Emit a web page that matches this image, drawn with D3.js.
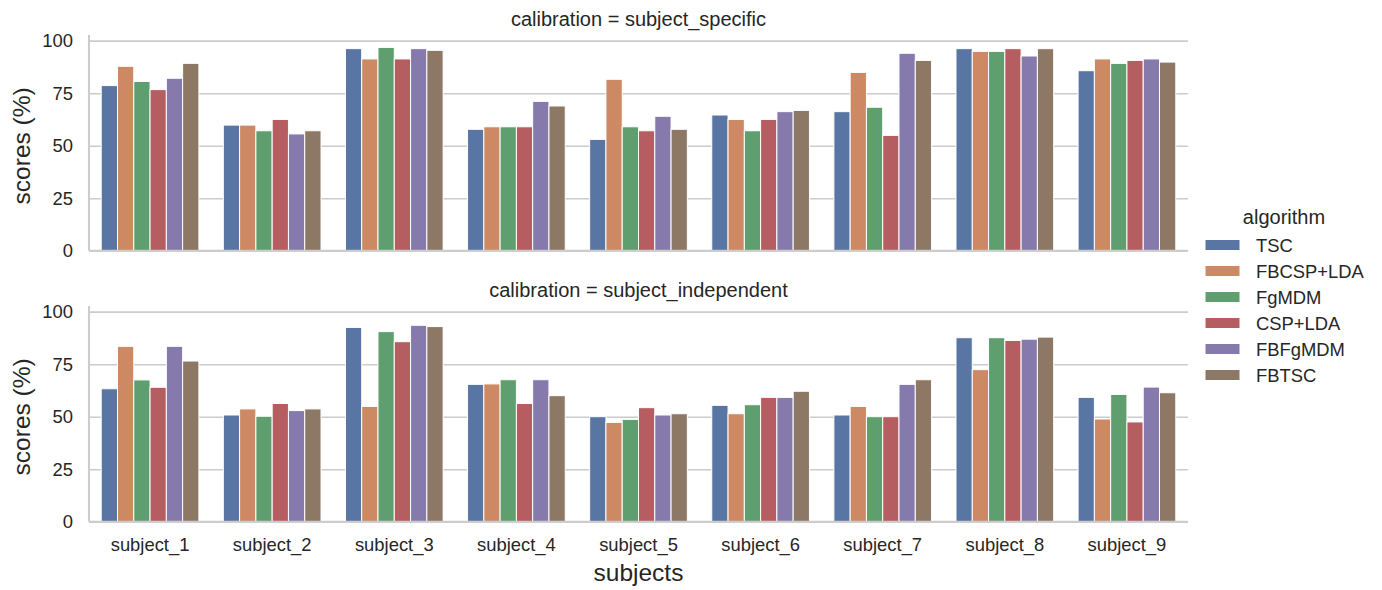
<!DOCTYPE html>
<html><head><meta charset="utf-8">
<script src="https://cdn.jsdelivr.net/npm/d3@7"></script>
<style>
body{margin:0;background:#fff;}
svg text{font-family:"Liberation Sans",Arial,sans-serif;fill:#262626;}
</style></head>
<body><svg id="c" width="1382" height="590"></svg>
<script>
const subjects = ["subject_1","subject_2","subject_3","subject_4","subject_5","subject_6","subject_7","subject_8","subject_9"];
const algorithms = ["TSC","FBCSP+LDA","FgMDM","CSP+LDA","FBFgMDM","FBTSC"];
const colors = ["#5975a4","#cc8963","#5f9e6e","#b55d60","#857aab","#8d7866"];
const yTicks = [0,25,50,75,100];
const calibrations = ["subject_specific","subject_independent"];

// scores per algorithm (rows) across subjects (columns)
const specificScores = [
  [78.6, 59.8, 96.2, 57.8, 53.0, 64.6, 66.2, 96.2, 85.7], // TSC
  [87.8, 59.8, 91.3, 59.0, 81.6, 62.5, 84.9, 94.9, 91.3], // FBCSP+LDA
  [80.6, 57.1, 96.8, 59.0, 59.0, 57.1, 68.3, 94.9, 89.2], // FgMDM
  [76.7, 62.5, 91.3, 59.0, 57.1, 62.5, 54.9, 96.2, 90.6], // CSP+LDA
  [82.1, 55.6, 96.2, 71.1, 64.0, 66.2, 94.0, 92.7, 91.3], // FBFgMDM
  [89.2, 57.1, 95.4, 68.9, 57.8, 66.8, 90.6, 96.2, 89.8]  // FBTSC
];
const independentScores = [
  [63.3, 50.8, 92.5, 65.4, 50.0, 55.4, 50.8, 87.6, 59.2], // TSC
  [83.5, 53.7, 54.9, 65.6, 47.3, 51.4, 54.9, 72.4, 48.9], // FBCSP+LDA
  [67.5, 50.2, 90.5, 67.6, 48.7, 55.7, 50.0, 87.6, 60.6], // FgMDM
  [64.0, 56.3, 85.7, 56.3, 54.3, 59.2, 50.0, 86.3, 47.5], // CSP+LDA
  [83.5, 52.9, 93.5, 67.6, 50.8, 59.2, 65.4, 86.9, 64.1], // FBFgMDM
  [76.5, 53.7, 92.9, 60.0, 51.4, 62.1, 67.6, 87.9, 61.4]  // FBTSC
];
const panelScores = [specificScores, independentScores];

const svg = d3.select("#c");
const L = 89, R = 1188;
const x = d3.scaleBand().domain(subjects).range([L, R]).paddingInner(0).paddingOuter(0);
const xi = d3.scaleBand().domain(algorithms).range([0, x.bandwidth()*0.8]).padding(0);
const color = d3.scaleOrdinal().domain(algorithms).range(colors);

const panels = [{zero:250.7, top:35.0, titleY:26}, {zero:521.7, top:306.0, titleY:297}];
const ymax = 102.7;

panels.forEach((p, pi) => {
  const y = d3.scaleLinear().domain([0, ymax]).range([p.zero, p.top]);
  const g = svg.append("g");
  // grid
  const ax = d3.axisLeft(y).tickValues(yTicks).tickSize(-(R-L)).tickPadding(16);
  const ga = g.append("g").attr("transform", `translate(${L},0)`).call(ax);
  ga.select(".domain").remove();
  ga.selectAll(".tick line").attr("stroke", "#cccccc").attr("stroke-width", 1.6);
  ga.selectAll(".tick text").attr("font-size", "18.4px").attr("fill", "#262626")
    .style("font-family", '"Liberation Sans",Arial,sans-serif');
  // bars
  const data = [];
  algorithms.forEach((a, ai) => subjects.forEach((s, si) => data.push({a, s, v: panelScores[pi][ai][si]})));
  g.append("g").selectAll("rect").data(data).join("rect")
    .attr("x", d => x(d.s) + x.bandwidth()*0.1 + xi(d.a))
    .attr("width", xi.bandwidth())
    .attr("y", d => y(d.v))
    .attr("height", d => y(0) - y(d.v))
    .attr("fill", d => color(d.a))
    .attr("stroke", "#ffffff").attr("stroke-width", 1);
  // spines
  g.append("line").attr("x1", L).attr("x2", L).attr("y1", p.top).attr("y2", p.zero)
    .attr("stroke", "#cccccc").attr("stroke-width", 2.1);
  g.append("line").attr("x1", L).attr("x2", R).attr("y1", p.zero).attr("y2", p.zero)
    .attr("stroke", "#cccccc").attr("stroke-width", 2.1);
  // facet title
  g.append("text").attr("x", (L+R)/2).attr("y", p.titleY).attr("text-anchor", "middle")
    .attr("font-size", "20px").text("calibration = " + calibrations[pi]);
  // y label
  g.append("text").attr("transform", `translate(30,${(p.zero+p.top)/2 + 3}) rotate(-90)`)
    .attr("text-anchor", "middle").attr("font-size", "24.5px").text("scores (%)");
  if (pi === 1) {
    const xa = d3.axisBottom(x).tickSize(0).tickPadding(16);
    const gx = g.append("g").attr("transform", `translate(0,${p.zero})`).call(xa);
    gx.select(".domain").remove();
    gx.selectAll(".tick text").attr("font-size", "18.4px").attr("fill", "#262626")
      .style("font-family", '"Liberation Sans",Arial,sans-serif');
  }
});

svg.append("text").attr("x", (L+R)/2).attr("y", 581).attr("text-anchor", "middle")
  .attr("font-size", "24.5px").text("subjects");

// legend
const lg = svg.append("g");
lg.append("text").attr("x", 1284).attr("y", 224).attr("text-anchor", "middle")
  .attr("font-size", "20px").text("algorithm");
algorithms.forEach((a, i) => {
  const cy = 245 + i*26;
  lg.append("rect").attr("x", 1205).attr("y", cy - 5.5).attr("width", 35).attr("height", 11)
    .attr("fill", color(a)).attr("stroke", "#ffffff").attr("stroke-width", 1);
  lg.append("text").attr("x", 1256).attr("y", cy + 6.5).attr("font-size", "18.4px").text(a);
});
</script></body></html>
